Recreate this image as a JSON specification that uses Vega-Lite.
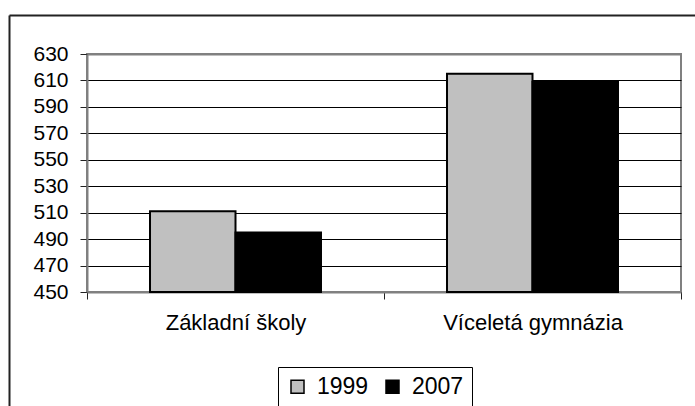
{
  "$schema": "https://vega.github.io/schema/vega-lite/v6.json",
  "width": 594,
  "height": 238,
  "autosize": {"type": "none"},
  "padding": {"left": 87, "top": 54, "right": 14, "bottom": 114},
  "background": "white",
  "config": {
    "view": {"stroke": "#808080", "strokeWidth": 2},
    "font": "Liberation Sans"
  },
  "layer": [
    {
      "data": {
        "values": [
          {"skola": "Základní školy", "rok": "1999", "skore": 511},
          {"skola": "Základní školy", "rok": "2007", "skore": 495},
          {"skola": "Víceletá gymnázia", "rok": "1999", "skore": 615},
          {"skola": "Víceletá gymnázia", "rok": "2007", "skore": 609}
        ]
      },
      "mark": {"type": "bar", "stroke": "black", "strokeWidth": 2, "opacity": 1},
      "encoding": {
        "x": {
          "field": "skola",
          "type": "nominal",
          "sort": ["Základní školy", "Víceletá gymnázia"],
          "scale": {"paddingInner": 0, "paddingOuter": 0},
          "axis": {
            "orient": "bottom",
            "title": null,
            "labelAngle": 0,
            "labelFontSize": 22,
            "labelColor": "black",
            "labelPadding": 13,
            "domainColor": "#808080",
            "domainWidth": 2,
            "tickBand": "extent",
            "tickSize": 7,
            "tickColor": "#222",
            "tickWidth": 1,
            "grid": false
          }
        },
        "xOffset": {
          "field": "rok",
          "type": "nominal",
          "scale": {"paddingInner": 0, "paddingOuter": 0.737}
        },
        "y": {
          "field": "skore",
          "type": "quantitative",
          "scale": {"domain": [450, 630], "nice": false, "zero": false},
          "axis": {
            "orient": "left",
            "title": null,
            "values": [450, 470, 490, 510, 530, 550, 570, 590, 610, 630],
            "labelFontSize": 21,
            "labelColor": "black",
            "labelPadding": 12,
            "domainColor": "#808080",
            "domainWidth": 2,
            "tickSize": 7,
            "tickColor": "#222",
            "tickWidth": 1,
            "grid": true,
            "gridColor": {"condition": {"test": "datum.value == 630", "value": "#808080"}, "value": "black"},
            "gridWidth": {"condition": {"test": "datum.value == 630", "value": 2}, "value": 1}
          }
        },
        "y2": {"datum": 450},
        "color": {
          "field": "rok",
          "type": "nominal",
          "scale": {"domain": ["1999", "2007"], "range": ["#C0C0C0", "black"]},
          "legend": {
            "orient": "none",
            "legendX": 191,
            "legendY": 313,
            "direction": "horizontal",
            "title": null,
            "symbolType": "square",
            "symbolSize": 169,
            "symbolStrokeColor": "black",
            "symbolStrokeWidth": 1.5,
            "symbolOpacity": 1,
            "labelFontSize": 23,
            "labelColor": "black",
            "labelOffset": 8,
            "columnPadding": 12,
            "strokeColor": "black",
            "fillColor": "white",
            "padding": 8
          }
        }
      }
    },
    {
      "data": {"values": [{"a": 0}]},
      "mark": {"type": "point", "opacity": 0},
      "encoding": {
        "x": {
          "datum": 0,
          "type": "quantitative",
          "scale": {"domain": [0, 1], "range": [-78, 720]},
          "axis": {"orient": "top", "offset": 39, "domainColor": "#222", "domainWidth": 2, "ticks": false, "labels": false, "grid": false, "title": null}
        },
        "y": {
          "datum": 0,
          "type": "quantitative",
          "scale": {"domain": [0, 1], "range": [420, -39]},
          "axis": {"orient": "left", "offset": 78, "domainColor": "#222", "domainWidth": 2, "ticks": false, "labels": false, "grid": false, "title": null}
        }
      }
    }
  ],
  "resolve": {
    "scale": {"x": "independent", "y": "independent", "color": "independent"},
    "axis": {"x": "independent", "y": "independent"}
  }
}
